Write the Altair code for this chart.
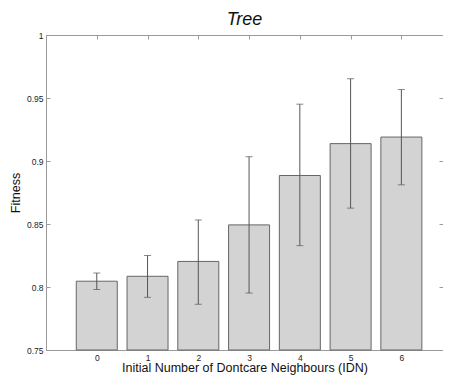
import altair as alt
import pandas as pd

idn = [0, 1, 2, 3, 4, 5, 6]
fitness = [0.8046, 0.8085, 0.8203, 0.8493, 0.8885, 0.9138, 0.9190]
err_low = [0.7980, 0.7918, 0.7863, 0.7952, 0.8328, 0.8626, 0.8811]
err_high = [0.8111, 0.8250, 0.8532, 0.9034, 0.9451, 0.9653, 0.9567]
y_ticks = [0.75, 0.8, 0.85, 0.9, 0.95, 1.0]

df = pd.DataFrame({"idn": idn, "fit": fitness, "lo": err_low, "hi": err_high})

W, H = 397, 315
FONT = "Liberation Sans"
AXC = "#9a9a9a"
xscale = alt.Scale(domain=[-1, 6.82], nice=False, padding=0)
yscale = alt.Scale(domain=[0.75, 1.0], nice=False, zero=False, padding=0)

base = alt.Chart(df)

bars = base.mark_bar(size=41, fill="#d3d3d3", stroke="#666666", strokeWidth=1).encode(
    x=alt.X("idn:Q", scale=xscale,
            axis=alt.Axis(orient="bottom", values=idn, format="d", ticks=False, tickSize=0,
                          grid=False, domainColor=AXC, labelPadding=3, labelFontSize=8.5,
                          labelFont=FONT, labelColor="#222222",
                          title="Initial Number of Dontcare Neighbours (IDN)",
                          titleFont=FONT, titleFontSize=12.5, titleFontWeight="normal",
                          titleColor="#111111", titlePadding=0)),
    y=alt.Y("fit:Q", scale=yscale,
            axis=alt.Axis(orient="left", values=y_ticks, format=".2~f", ticks=False, tickSize=0,
                          grid=False, domainColor=AXC, labelPadding=3, labelFontSize=8.5,
                          labelFont=FONT, labelColor="#222222",
                          title="Fitness", titleFont=FONT, titleFontSize=12.5,
                          titleFontWeight="normal", titleColor="#111111", titlePadding=4)),
    y2=alt.datum(0.75),
)

rules = base.mark_rule(color="#555555", strokeWidth=1).encode(
    x=alt.X("idn:Q", scale=xscale,
            axis=alt.Axis(orient="bottom", offset=-H, values=idn, labels=False, ticks=True,
                          tickSize=4, tickColor=AXC, domain=True, domainColor=AXC,
                          grid=False, title=None)),
    y=alt.Y("lo:Q", scale=yscale,
            axis=alt.Axis(orient="right", offset=-W, values=y_ticks, labels=False, ticks=True,
                          tickSize=4, tickColor=AXC, domain=False, grid=False, title=None)),
    y2="hi:Q",
)

caps = base.transform_fold(["lo", "hi"], as_=["kind", "val"]).mark_tick(
    orient="horizontal", size=7, thickness=1, color="#555555"
).encode(
    x=alt.X("idn:Q", scale=xscale, axis=None),
    y=alt.Y("val:Q", scale=yscale,
            axis=alt.Axis(orient="left", offset=-W, values=y_ticks, labels=False, ticks=True,
                          tickSize=4, tickColor=AXC, domain=False,
                          grid=False, title=None)),
)

chart = alt.layer(bars, rules, caps).resolve_axis(x="independent", y="independent").properties(
    width=W, height=H,
    title=alt.TitleParams("Tree", font=FONT, fontSize=18, fontStyle="italic",
                          fontWeight="normal", color="#111111", anchor="middle", offset=2),
    autosize=alt.AutoSizeParams(type="none"),
    padding={"left": 38, "top": 27, "right": 0, "bottom": 25},
).configure_view(stroke=None).configure(background="white")

chart.save("out.html", embed_options={"renderer": "svg", "actions": False})
